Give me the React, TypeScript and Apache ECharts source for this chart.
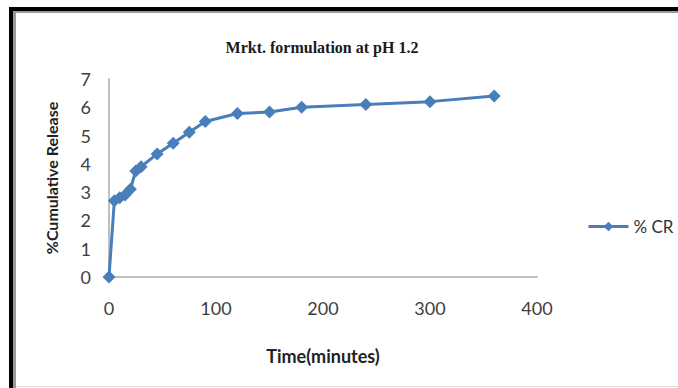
import React, { useEffect, useRef } from "react";
import * as echarts from "echarts";

const timeMinutes = [0, 5, 10, 15, 20, 25, 30, 45, 60, 75, 90, 120, 150, 180, 240, 300, 360];
const cumulativeRelease = [0, 2.7, 2.8, 2.9, 3.1, 3.75, 3.9, 4.35, 4.73, 5.12, 5.5, 5.78, 5.83, 6.0, 6.1, 6.2, 6.4];
const seriesName = "% CR";
const chartTitle = "Mrkt. formulation at pH 1.2";
const xAxisName = "Time(minutes)";
const yAxisName = "%Cumulative Release";

export default function App() {
  const ref = useRef<HTMLDivElement>(null);
  useEffect(() => {
    if (!ref.current) return;
    const chart = echarts.init(ref.current, undefined, { renderer: "svg" });
    const blue = "#4a7ebb";
    chart.setOption({
      animation: false,
      backgroundColor: "#ffffff",
      title: {
        text: chartTitle,
        left: 317,
        top: 34,
        textAlign: "center",
        textStyle: {
          fontFamily: "Liberation Serif",
          fontWeight: "bold",
          fontSize: 16,
          color: "#1a1a1a",
        },
      },
      legend: {
        data: [{ name: seriesName }],
        left: 582,
        top: 213,
        itemWidth: 40,
        itemHeight: 12,
        itemGap: 4,
        lineStyle: { width: 3 },
        textStyle: { fontFamily: "Lato", fontSize: 17, color: "#333" },
      },
      grid: { left: 109, right: 141, top: 79, bottom: 111, containLabel: false },
      xAxis: {
        type: "value",
        min: 0,
        max: 400,
        interval: 100,
        name: xAxisName,
        nameLocation: "middle",
        nameGap: 70,
        nameTextStyle: { fontFamily: "Lato", fontWeight: "bold", fontSize: 18, color: "#222" },
        axisLine: { show: true, lineStyle: { color: "#bfbfbf", width: 2 } },
        axisTick: { show: false },
        splitLine: { show: false },
        axisLabel: { fontFamily: "Lato", fontSize: 18, color: "#404040", margin: 22 },
      },
      yAxis: {
        type: "value",
        min: 0,
        max: 7,
        interval: 1,
        name: yAxisName,
        nameLocation: "middle",
        nameGap: 50,
        nameTextStyle: { fontFamily: "Lato", fontWeight: "bold", fontSize: 16, color: "#222" },
        axisLine: { show: true, lineStyle: { color: "#bfbfbf", width: 2 } },
        axisTick: { show: false },
        splitLine: { show: false },
        axisLabel: { fontFamily: "Lato", fontSize: 18, color: "#404040", margin: 18 },
      },
      series: [
        {
          name: seriesName,
          type: "line",
          data: timeMinutes.map((t, i) => [t, cumulativeRelease[i]]),
          symbol: "diamond",
          symbolSize: 13,
          itemStyle: { color: blue },
          lineStyle: { color: blue, width: 3 },
        },
      ],
      graphic: [
        { type: "rect", shape: { x: 9, y: 7, width: 680, height: 4 }, style: { fill: "#000" } },
        { type: "rect", shape: { x: 9, y: 7, width: 4, height: 390 }, style: { fill: "#000" } },
        { type: "rect", shape: { x: 13, y: 11, width: 670, height: 2 }, style: { fill: "#9a9a9a" } },
        { type: "rect", shape: { x: 13, y: 11, width: 3, height: 380 }, style: { fill: "#9a9a9a" } },
        { type: "rect", shape: { x: 16, y: 386, width: 670, height: 1 }, style: { fill: "#dcdcdc" } },
      ],
    });
    return () => chart.dispose();
  }, []);
  return (
    <div
      ref={ref}
      style={{ position: "absolute", left: 0, top: 0, width: 678, height: 388 }}
    />
  );
}
